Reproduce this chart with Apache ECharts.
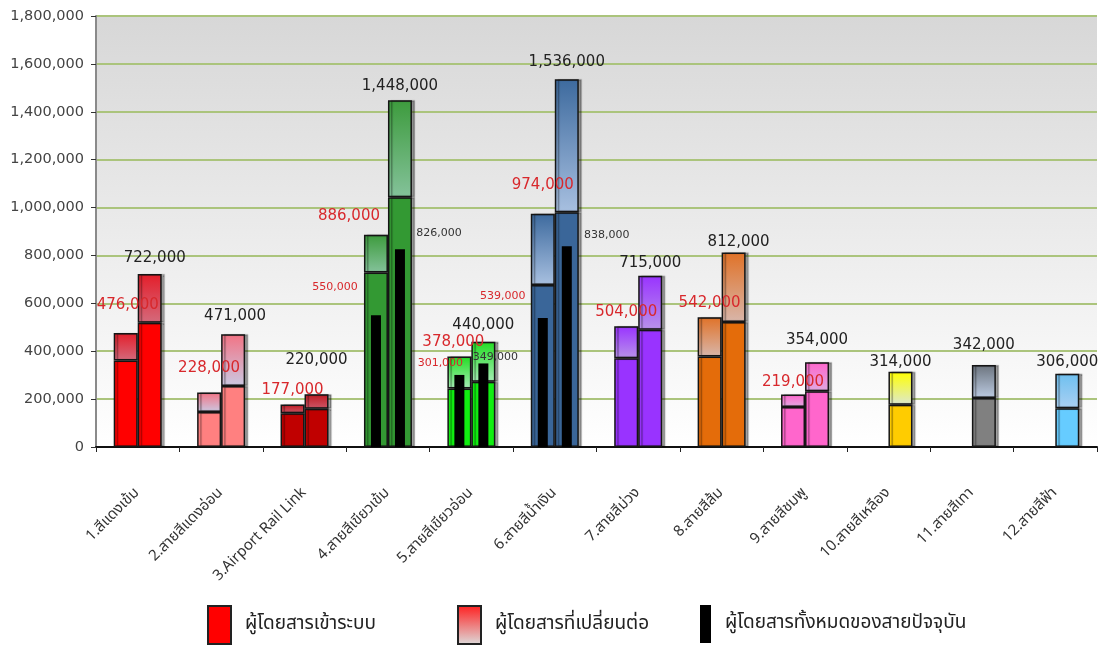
<!DOCTYPE html>
<html>
<head>
<meta charset="utf-8">
<title>ผู้โดยสารรถไฟฟ้าแต่ละสาย</title>
<script src="https://cdn.jsdelivr.net/npm/echarts@6/dist/echarts.min.js"></script>
<style>
  html, body { margin: 0; padding: 0; background: #ffffff; }
  #chart { width: 1102px; height: 645px; }
</style>
</head>
<body>
<div id="chart"></div>
<script>
// Lines (categories)
const categories = [
  '1.สีแดงเข้ม', '2.สายสีแดงอ่อน', '3.Airport Rail Link', '4.สายสีเขียวเข้ม',
  '5.สายสีเขียวอ่อน', '6.สายสีน้ำเงิน', '7.สายสีม่วง', '8.สายสีส้ม',
  '9.สายสีชมพู', '10.สายสีเหลือง', '11.สายสีเทา', '12.สายสีฟ้า'
];

// Left column: totals (red labels) and the entering part
const leftTotal = [476000, 228000, 177000, 886000, 378000, 974000, 504000, 542000, 219000, null, null, null];
const leftEntry = [361000, 146000, 141000, 729000, 244000, 677000, 371000, 378000, 167000, null, null, null];

// Right column: totals (black labels) and the entering part
const rightTotal = [722000, 471000, 220000, 1448000, 440000, 1536000, 715000, 812000, 354000, 314000, 342000, 306000];
const rightEntry = [519000, 255000, 160000, 1043000, 272000, 980000, 490000, 522000, 233000, 176000, 205000, 162000];

// Total passengers of the existing line (thin black bars)
const lineLeft  = [null, null, null, 550000, 301000, 539000, null, null, null, null, null, null];
const lineRight = [null, null, null, 826000, 349000, 838000, null, null, null, null, null, null];

// Y axis
const yMax = 1800000;
const yStep = 200000;

// Line colours: solid base, and gradient (top -> bottom) for the transfer part
const baseColors = ['#ff0000', '#ff8080', '#c00000', '#339933', '#11ee11', '#3a6699',
                    '#9933ff', '#e46c0a', '#ff66cc', '#ffcc00', '#808080', '#66ccff'];
const transferColors = [
  ['#e41e2a', '#d46a7c'], ['#f27384', '#cbc8e2'], ['#c01a22', '#cc5868'], ['#3d9b3d', '#84c29a'],
  ['#22dd22', '#a6ecb6'], ['#3d6a9e', '#a8c0e0'], ['#9933ff', '#b892ea'], ['#e07228', '#d8b6aa'],
  ['#ff66cc', '#e0aae2'], ['#ffff00', '#dce8d0'], ['#6c747e', '#bccbe2'], ['#6ec0f0', '#aad0f2']
];

// Label placement (shift x, lift of text centre above the bar top)
const leftLabelShift  = [2, 0, 0, -27, -6, 0, 0, 0, 0, 0, 0, 0];
const leftLabelLift   = [28, 24, 15, 19, 14, 29, 14, 14, 12, 0, 0, 0];
const rightLabelShift = [5, 2, 0, 0, 0, 0, 0, 5, 0, 0, 0, 0];
const rightLabelLift  = [16, 18, 34, 14, 17, 17, 13, 10, 22, 10, 20, 12];
const lineLeftShift  = [0, 0, 0, -41, -19, -40, 0, 0, 0, 0, 0, 0];
const lineLeftLift   = [0, 0, 0, 28, 12, 22, 0, 0, 0, 0, 0, 0];
const lineRightShift = [0, 0, 0, 39, 12, 40, 0, 0, 0, 0, 0, 0];
const lineRightLift  = [0, 0, 0, 16, 6, 11, 0, 0, 0, 0, 0, 0];

const NAME_ENTRY = 'ผู้โดยสารเข้าระบบ';
const NAME_TRANSFER = 'ผู้โดยสารที่เปลี่ยนต่อ';
const NAME_LINE = 'ผู้โดยสารทั้งหมดของสายปัจจุบัน';

const FONT = "'DejaVu Sans', Tahoma, 'Noto Sans', sans-serif";
const THAI_FONT = "'Noto Sans Thai', 'Noto Sans Thai UI', Tahoma, 'DejaVu Sans', 'Noto Sans', sans-serif";
const LABEL_RED = '#d8282c';

const fmt = v => Number(v).toLocaleString('en-US');
const vGrad = (top, bottom) => new echarts.graphic.LinearGradient(0, 0, 0, 1, [
  { offset: 0, color: top }, { offset: 1, color: bottom }
]);

const barBorder = {
  borderColor: '#151515',
  borderWidth: 1.5,
  shadowColor: 'rgba(0,0,0,0.35)',
  shadowOffsetX: 3,
  shadowOffsetY: 0,
  shadowBlur: 1
};

function entryData(values) {
  return values.map((v, i) => v == null ? '-' : {
    value: v,
    itemStyle: Object.assign({ color: baseColors[i] }, barBorder)
  });
}

function transferData(totals, entries, shifts, lifts, color) {
  return totals.map((t, i) => t == null ? '-' : {
    value: t - entries[i],
    itemStyle: Object.assign({ color: vGrad(transferColors[i][0], transferColors[i][1]) }, barBorder),
    label: {
      show: true,
      position: 'top',
      distance: 0,
      offset: [shifts[i], -(lifts[i] - 8)],
      formatter: () => fmt(t),
      color: color,
      fontSize: 15,
      lineHeight: 16,
      fontFamily: FONT
    }
  });
}

function lineData(values, shifts, lifts, color) {
  return values.map((v, i) => v == null ? '-' : {
    value: v,
    label: {
      show: true,
      position: 'top',
      distance: 0,
      offset: [shifts[i], -(lifts[i] - 6)],
      formatter: () => fmt(v),
      color: color,
      fontSize: 11,
      lineHeight: 12,
      fontFamily: FONT
    }
  });
}

const chart = echarts.init(document.getElementById('chart'), null, { renderer: 'canvas' });

const legendCommon = {
  orient: 'horizontal',
  top: 605,
  padding: 0,
  itemHeight: 38,
  selectedMode: true,
  textStyle: {
    fontSize: 19,
    color: '#222',
    fontFamily: THAI_FONT,
    padding: [0, 0, 0, 9]
  }
};

const option = {
  backgroundColor: '#ffffff',
  animation: false,
  grid: {
    left: 96,
    right: 5,
    top: 16,
    bottom: 198,
    show: true,
    borderWidth: 0,
    backgroundColor: new echarts.graphic.LinearGradient(0, 0, 0, 1, [
      { offset: 0, color: '#d7d7d7' },
      { offset: 1, color: '#ffffff' }
    ])
  },
  legend: [
    Object.assign({}, legendCommon, {
      left: 207, itemWidth: 23,
      data: [{ name: NAME_ENTRY, icon: 'rect',
               itemStyle: { color: '#ff0000', borderColor: '#222', borderWidth: 2 } }]
    }),
    Object.assign({}, legendCommon, {
      left: 457, itemWidth: 23,
      data: [{ name: NAME_TRANSFER, icon: 'rect',
               itemStyle: { color: vGrad('#ff1e1e', '#dcdcdc'), borderColor: '#222', borderWidth: 2 } }]
    }),
    Object.assign({}, legendCommon, {
      left: 700, itemWidth: 11,
      data: [{ name: NAME_LINE, icon: 'rect',
               itemStyle: { color: '#000000', borderWidth: 0 } }]
    })
  ],
  xAxis: [
    {
      type: 'category',
      data: categories,
      axisLine: { show: true, lineStyle: { color: '#111', width: 2 } },
      axisTick: { show: true, length: 5, lineStyle: { color: '#222' } },
      axisLabel: {
        rotate: 45,
        margin: 44,
        interval: 0,
        fontSize: 15,
        color: '#333',
        fontFamily: THAI_FONT
      },
      splitLine: { show: false }
    },
    {
      type: 'category',
      data: categories,
      show: false
    }
  ],
  yAxis: {
    type: 'value',
    min: 0,
    max: yMax,
    interval: yStep,
    axisLine: { show: true, lineStyle: { color: '#8a8a8a', width: 2 } },
    axisTick: { show: true, length: 5, lineStyle: { color: '#333' } },
    axisLabel: {
      formatter: v => fmt(v),
      fontSize: 14.5,
      color: '#444',
      margin: 12,
      fontFamily: FONT
    },
    splitLine: { show: true, lineStyle: { color: '#abc47c', width: 2 } }
  },
  series: [
    {
      name: NAME_ENTRY, type: 'bar', stack: 'left', xAxisIndex: 0,
      barWidth: 24, barGap: '0%',
      data: entryData(leftEntry)
    },
    {
      name: NAME_TRANSFER, type: 'bar', stack: 'left', xAxisIndex: 0,
      barWidth: 24, barGap: '0%',
      data: transferData(leftTotal, leftEntry, leftLabelShift, leftLabelLift, LABEL_RED)
    },
    {
      name: NAME_ENTRY, type: 'bar', stack: 'right', xAxisIndex: 0,
      barWidth: 24, barGap: '0%',
      data: entryData(rightEntry)
    },
    {
      name: NAME_TRANSFER, type: 'bar', stack: 'right', xAxisIndex: 0,
      barWidth: 24, barGap: '0%',
      data: transferData(rightTotal, rightEntry, rightLabelShift, rightLabelLift, '#222')
    },
    {
      name: NAME_LINE, type: 'bar', xAxisIndex: 1, z: 5,
      barWidth: 10, barGap: '140%',
      itemStyle: { color: '#000000' },
      data: lineData(lineLeft, lineLeftShift, lineLeftLift, LABEL_RED)
    },
    {
      name: NAME_LINE, type: 'bar', xAxisIndex: 1, z: 5,
      barWidth: 10, barGap: '140%',
      itemStyle: { color: '#000000' },
      data: lineData(lineRight, lineRightShift, lineRightLift, '#333')
    }
  ]
};

chart.setOption(option);
</script>
</body>
</html>
